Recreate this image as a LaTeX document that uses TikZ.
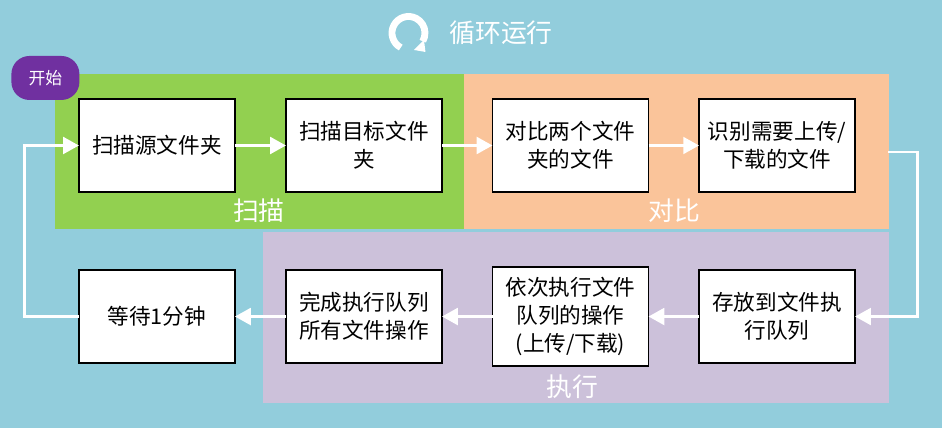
\documentclass[tikz,border=0pt]{standalone}
\usepackage{fontspec}
\setmainfont{Noto Sans CJK SC}
\usetikzlibrary{arrows.meta}
\definecolor{skybg}{HTML}{92CDDC}
\definecolor{scangreen}{HTML}{92D050}
\definecolor{cmporange}{HTML}{FAC49A}
\definecolor{runpurple}{HTML}{CCC1DA}
\definecolor{startpurple}{HTML}{7030A0}
\tikzset{
    region/.style={inner sep=0pt, outer sep=0pt},
    procbox/.style={draw=black, fill=white, line width=0.85pt, align=center, inner sep=0pt, outer sep=0pt,
        minimum width=3.12cm, minimum height=1.86cm, font=\fontsize{12.3}{16}\selectfont},
    grouplabel/.style={text=white, inner sep=0pt, font=\fontsize{14.7}{18}\selectfont},
    flow/.style={draw=white, line width=1.7pt, -{Triangle[length=9pt,width=9.5pt]}},
}
\begin{document}
\begin{tikzpicture}[x=0.02cm, y=-0.02cm]
    %background
    \node[region, fill=skybg, minimum width=18.84cm, minimum height=8.56cm] (bg) at (471, 214) {};
    \useasboundingbox (bg.south west) rectangle (bg.north east);

    %groups
    \node[region, fill=scangreen, minimum width=8.18cm, minimum height=3.10cm] (scan) at (259.5, 151.5) {};
    \node[region, fill=cmporange, minimum width=8.50cm, minimum height=3.10cm] (cmp) at (676.5, 151.5) {};
    \node[region, fill=runpurple, minimum width=12.52cm, minimum height=3.42cm] (run) at (576, 317.5) {};
    \node[grouplabel] (scanlabel) at (259, 211) {扫描};
    \node[grouplabel] (cmplabel) at (674, 211) {对比};
    \node[grouplabel] (runlabel) at (572, 387) {执行};

    %title
    \node[grouplabel, anchor=west] (title) at (449, 33) {循环运行};
    \coordinate (loopc) at (408.5, 33);
    \draw[white, line width=3.9pt] ([shift={(242:0.33cm)}]loopc) arc[start angle=242, end angle=-30, radius=0.33cm];
    \fill[white] (414, 50) -- (425.5, 52) -- (424, 40) -- cycle;

    %start
    \node[fill=startpurple, text=white, rounded corners=0.36cm, inner sep=0pt, minimum width=1.36cm, minimum height=0.88cm,
        font=\fontsize{9.6}{12}\selectfont] (start) at (45.5, 78) {开始};

    %boxes
    \node[procbox] (srcscan) at (157, 145.5) {扫描源文件夹};
    \node[procbox] (dstscan) at (364, 145.5) {扫描目标文件\\夹};
    \node[procbox] (compare) at (570.5, 145.5) {对比两个文件\\夹的文件};
    \node[procbox] (identify) at (777, 145.5) {识别需要上传/\\下载的文件};
    \node[procbox] (store) at (777, 316.5) {存放到文件执\\行队列};
    \node[procbox, minimum height=1.98cm] (exec) at (570.5, 316.5) {依次执行文件\\队列的操作\\(上传/下载)};
    \node[procbox] (finish) at (364, 316.5) {完成执行队列\\所有文件操作};
    \node[procbox] (wait) at (157, 316.5) {等待1分钟};

    %edges
    \coordinate (leftturn) at (25, 316.5);
    \coordinate (rightout) at (888, 152);
    \coordinate (rightturn) at (917, 152);
    \draw[flow] (srcscan) -- (dstscan);
    \draw[flow] (dstscan) -- (compare);
    \draw[flow] (compare) -- (identify);
    \draw[flow] (rightout) -- (rightturn) |- (store.east);
    \draw[flow] (store) -- (exec);
    \draw[flow] (exec) -- (finish);
    \draw[flow] (finish) -- (wait);
    \draw[flow] (wait.west) -- (leftturn) |- (srcscan.west);
\end{tikzpicture}
\end{document}
